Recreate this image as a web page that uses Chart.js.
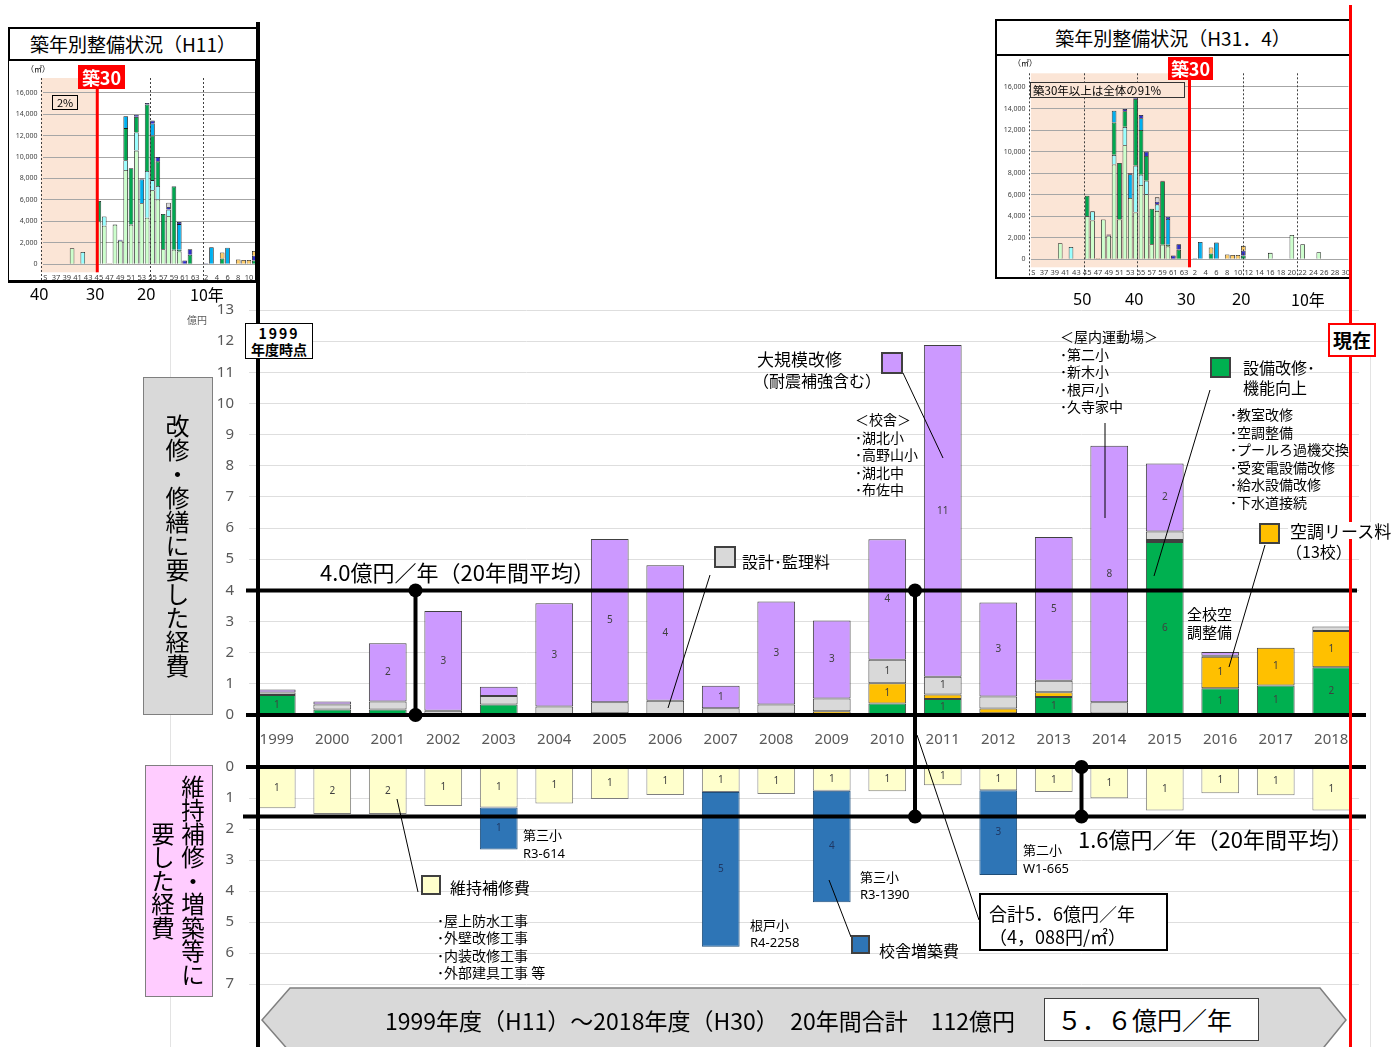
<!DOCTYPE html>
<html lang="ja">
<head>
<meta charset="utf-8">
<title>改修・修繕及び維持補修・増築等に要した経費</title>
<script src="https://cdn.jsdelivr.net/npm/chart.js@4.4.1/dist/chart.umd.min.js"></script>
<style>
  html, body { margin: 0; padding: 0; background: #fff; }
  #page { position: relative; width: 1400px; height: 1047px; overflow: hidden;
          font-family: "Noto Sans CJK JP", "Noto Sans", sans-serif; color: #000; }
  canvas { position: absolute; z-index: 1; }
  .t { position: absolute; white-space: nowrap; line-height: 1; z-index: 4; }
  .list { position: absolute; white-space: nowrap; z-index: 4; font-size: 14px; line-height: 17.5px; }
  .sq { position: absolute; box-sizing: border-box; border: 2px solid #404040; z-index: 4; }
  .frame { position: absolute; box-sizing: border-box; border: 2px solid #000; z-index: 3; }
  .vbox { position: absolute; box-sizing: border-box; writing-mode: vertical-rl; text-align: center;
          border: 1px solid #7f7f7f; z-index: 4; }
  .num { font-family: "Noto Sans", sans-serif; }
</style>
</head>
<body>
<div id="page">
  <canvas id="insetOld" width="249" height="222" style="left:8px;top:60px"></canvas>
  <canvas id="insetNow" width="355" height="223" style="left:996px;top:55px"></canvas>
  <canvas id="upper" width="1160" height="455" style="left:209px;top:295px"></canvas>
  <canvas id="lower" width="1160" height="242" style="left:209px;top:752px"></canvas>
  <canvas id="overlay" width="1400" height="1047" style="left:0;top:0;z-index:2"></canvas>

  <!-- faint guide lines and the two main verticals -->
  <div style="position:absolute;left:170px;top:290px;width:1px;height:757px;background:#e3e3e3;z-index:0"></div>
  <div style="position:absolute;left:1370px;top:330px;width:1px;height:717px;background:#e3e3e3;z-index:0"></div>
  <div style="position:absolute;left:256px;top:22px;width:4px;height:1025px;background:#000;z-index:3"></div>
  <div style="position:absolute;left:1349px;top:5px;width:3px;height:1042px;background:#ff0000;z-index:5"></div>

  <!-- 築年別整備状況 (H11) -->
  <div class="frame" style="left:8px;top:27px;width:250px;height:34px;background:#fff"></div>
  <div class="t" style="left:8px;width:250px;text-align:center;top:34px;font-size:19px">築年別整備状況（H11）</div>
  <div class="frame" style="left:8px;top:59px;width:250px;height:224px;border-width:1px 3px 3px 1px"></div>
  <div class="t" style="left:26px;top:65px;font-size:8px">（㎡）</div>
  <div class="t" style="left:78px;top:65px;width:47px;height:24px;background:#ff0000;color:#fff;font-weight:bold;font-size:18px;line-height:24px;text-align:center">築30</div>
  <div class="t" style="left:52px;top:95px;width:26px;height:15px;border:1px solid #000;box-sizing:border-box;font-size:11px;line-height:13px;text-align:center">2%</div>
  <div class="t num" style="left:30px;top:286px;font-size:16px">40</div>
  <div class="t num" style="left:86px;top:286px;font-size:16px">30</div>
  <div class="t num" style="left:137px;top:286px;font-size:16px">20</div>
  <div class="t" style="left:190px;top:286px;font-size:16px">10年</div>

  <!-- 築年別整備状況 (H31.4) -->
  <div class="frame" style="left:995px;top:19px;width:356px;height:37px;background:#fff"></div>
  <div class="t" style="left:995px;width:356px;text-align:center;top:28px;font-size:19px">築年別整備状況（H31．4）</div>
  <div class="frame" style="left:995px;top:54px;width:356px;height:225px"></div>
  <div class="t" style="left:1013px;top:59px;font-size:8px">（㎡）</div>
  <div class="t" style="left:1168px;top:57px;width:45px;height:23px;background:#ff0000;color:#fff;font-weight:bold;font-size:18px;line-height:23px;text-align:center">築30</div>
  <div class="t" style="left:1030px;top:82px;width:155px;height:16px;border:1px solid #333;box-sizing:border-box;background:#fbe5d6;font-size:11.5px;line-height:14px;padding-left:2px">築30年以上は全体の91%</div>
  <div class="t num" style="left:1073px;top:291px;font-size:16px">50</div>
  <div class="t num" style="left:1125px;top:291px;font-size:16px">40</div>
  <div class="t num" style="left:1177px;top:291px;font-size:16px">30</div>
  <div class="t num" style="left:1232px;top:291px;font-size:16px">20</div>
  <div class="t" style="left:1291px;top:291px;font-size:16px">10年</div>

  <!-- axis captions -->
  <div class="t" style="left:187px;top:315px;font-size:10px;color:#595959">億円</div>
  <div class="t" style="left:245px;top:323px;width:68px;height:36px;border:1px solid #000;box-sizing:border-box;background:#fff;font-weight:bold;font-size:14px;line-height:16px;text-align:center;padding-top:1px;z-index:6">
    <span style="letter-spacing:2px">1999</span><br>年度時点</div>
  <div class="vbox" style="left:143px;top:377px;width:70px;height:338px;background:#d9d9d9;font-size:24px;line-height:30px;padding-right:20px">改修・修繕に要した経費</div>
  <div class="vbox" style="left:145px;top:765px;width:68px;height:232px;background:#ffccff;font-size:23.5px;line-height:30px;padding-right:4px">維持補修・増築等に<br>要した経費</div>

  <!-- upper annotations -->
  <div class="t" id="avgUpperLabel" style="left:320px;top:560px;font-size:22px"></div>
  <div class="t" style="left:757px;top:350px;font-size:17px">大規模改修</div>
  <div class="t" style="left:753px;top:372px;font-size:16px">（耐震補強含む）</div>
  <div class="sq" style="left:881px;top:352px;width:22px;height:22px;background:#cc99ff"></div>
  <div class="list" style="left:855px;top:411px">＜校舎＞<br>･湖北小<br>･高野山小<br>･湖北中<br>･布佐中</div>
  <div class="sq" style="left:714px;top:546px;width:22px;height:22px;background:#d9d9d9"></div>
  <div class="t" style="left:742px;top:553px;font-size:16px">設計･監理料</div>
  <div class="list" style="left:1060px;top:328px">＜屋内運動場＞<br>･第二小<br>･新木小<br>･根戸小<br>･久寺家中</div>
  <div class="sq" style="left:1210px;top:357px;width:21px;height:21px;background:#00b050"></div>
  <div class="t" style="left:1243px;top:359px;font-size:16px">設備改修･</div>
  <div class="t" style="left:1243px;top:379px;font-size:16px">機能向上</div>
  <div class="list" style="left:1230px;top:406px">･教室改修<br>･空調整備<br>･プールろ過機交換<br>･受変電設備改修<br>･給水設備改修<br>･下水道接続</div>
  <div class="sq" style="left:1259px;top:523px;width:21px;height:21px;background:#ffc000"></div>
  <div class="t" style="left:1288px;top:522px;font-size:17px;background:#fff;padding:0 2px;z-index:6">空調リース料</div>
  <div class="t" style="left:1286px;top:543px;font-size:16px">（13校）</div>
  <div class="t" style="left:1187px;top:606px;font-size:15px">全校空</div>
  <div class="t" style="left:1187px;top:624px;font-size:15px">調整備</div>
  <div class="t" style="left:1328px;top:323px;width:48px;height:34px;border:2px solid #ff0000;box-sizing:border-box;background:#fff;font-weight:bold;font-size:19px;line-height:30px;text-align:center;z-index:6">現在</div>

  <!-- lower annotations -->
  <div class="t" id="avgLowerLabel" style="left:1078px;top:827px;font-size:22px"></div>
  <div class="sq" style="left:421px;top:875px;width:20px;height:20px;background:#ffffcc"></div>
  <div class="t" style="left:450px;top:879px;font-size:16px">維持補修費</div>
  <div class="list" style="left:437px;top:912px;line-height:17.3px">･屋上防水工事<br>･外壁改修工事<br>･内装改修工事<br>･外部建具工事 等</div>
  <div class="t" style="left:523px;top:828px;font-size:13px">第三小</div>
  <div class="t num" style="left:523px;top:847px;font-size:13px">R3-614</div>
  <div class="t" style="left:750px;top:918px;font-size:13px">根戸小</div>
  <div class="t num" style="left:750px;top:936px;font-size:13px">R4-2258</div>
  <div class="t" style="left:860px;top:870px;font-size:13px">第三小</div>
  <div class="t num" style="left:860px;top:888px;font-size:13px">R3-1390</div>
  <div class="t" style="left:1023px;top:843px;font-size:13px">第二小</div>
  <div class="t num" style="left:1023px;top:862px;font-size:13px">W1-665</div>
  <div class="sq" style="left:851px;top:935px;width:19px;height:19px;background:#2e75b6"></div>
  <div class="t" style="left:879px;top:942px;font-size:16px">校舎増築費</div>
  <div class="t" style="left:979px;top:893px;width:189px;height:58px;border:2px solid #000;box-sizing:border-box;background:#fff;font-size:18px;line-height:23px;padding:7px 0 0 8px">合計5．6億円／年<br>（4，088円/㎡）</div>

  <!-- bottom banner -->
  <svg width="1400" height="1047" style="position:absolute;left:0;top:0;z-index:4">
    <polygon points="262,1020 290,988 1320,988 1346,1020 1320,1052 290,1052" fill="#d9d9d9" stroke="#7f7f7f" stroke-width="1.5"/>
  </svg>
  <div class="t" style="left:385px;top:1009px;font-size:23px;z-index:5">1999年度（H11）～2018年度（H30）　20年間合計　112億円</div>
  <div class="t" style="left:1044px;top:998px;width:215px;height:43px;border:1px solid #404040;box-sizing:border-box;background:#fff;font-size:25px;line-height:41px;padding-left:12px;z-index:5">５．６億円／年</div>
</div>

<script>
// 年度
const fiscalYears = ['1999', '2000', '2001', '2002', '2003', '2004', '2005', '2006', '2007', '2008',
                     '2009', '2010', '2011', '2012', '2013', '2014', '2015', '2016', '2017', '2018'];

// 改修・修繕に要した経費（億円）
const facilityUpgrade = [0.64, 0.18, 0.18, 0, 0.34, 0, 0, 0, 0.03, 0, 0, 0.37, 0.51, 0.06, 0.58, 0.02, 5.55, 0.86, 0.95, 1.53];
const acLease         = [0, 0, 0, 0, 0, 0, 0.06, 0.02, 0, 0.05, 0.12, 0.65, 0.15, 0.15, 0.15, 0.03, 0.07, 1.01, 1.21, 1.17];
const designFee       = [0.08, 0.16, 0.25, 0.14, 0.27, 0.27, 0.35, 0.44, 0.19, 0.29, 0.41, 0.75, 0.57, 0.38, 0.37, 0.36, 0.27, 0.03, 0, 0.14];
const majorRenovation = [0.10, 0.09, 1.87, 3.20, 0.30, 3.32, 5.24, 4.35, 0.72, 3.30, 2.50, 3.87, 10.65, 3.02, 4.61, 8.23, 2.18, 0.12, 0, 0];

// 維持補修・増築等に要した経費（億円）
const maintenance     = [1.33, 1.52, 1.52, 1.26, 1.31, 1.18, 1.03, 0.90, 0.81, 0.87, 0.77, 0.78, 0.59, 0.75, 0.81, 1.01, 1.40, 0.85, 0.91, 1.40];
const schoolExtension = [0, 0, 0, 0, 1.35, 0, 0, 0, 4.99, 0, 3.59, 0, 0, 2.73, 0, 0, 0, 0, 0, 0];

// 20年間平均（億円／年）
const avgRenovation = 4.0;
const avgMaintenance = 1.6;

// 築年（S35〜S63, H1〜H30）
const builtYears = ['S', '36', '37', '38', '39', '40', '41', '42', '43', '44', '45', '46', '47', '48', '49',
                    '50', '51', '52', '53', '54', '55', '56', '57', '58', '59', '60', '61', '62', '63',
                    '1', '2', '3', '4', '5', '6', '7', '8', '9', '10', '11', '12', '13', '14', '15', '16',
                    '17', '18', '19', '20', '21', '22', '23', '24', '25', '26', '27', '28', '29', '30'];
const areaTicks = [0, 2000, 4000, 6000, 8000, 10000, 12000, 14000, 16000];

// 築年別の延床面積（㎡）
const areaLightGreen = [0, 0, 0, 0, 0, 1500, 0, 0, 0, 0,
                        4000, 3600, 0, 3700, 2200, 8800, 3700, 10600, 5700, 4350,
                        6900, 6050, 1400, 4500, 1350, 1200, 0, 0, 0, 0,
                        0, 0, 0, 0, 0, 0, 0, 0, 0, 0,
                        0, 0, 0, 0, 600, 0, 0, 0, 2250, 0,
                        1400, 0, 0, 650, 0, 0, 0, 0, 0];
const areaCyan       = [0, 0, 0, 0, 0, 0, 0, 1150, 0, 0,
                        0, 850, 0, 0, 0, 900, 0, 1700, 0, 4350,
                        950, 1250, 0, 600, 0, 0, 0, 0, 0, 0,
                        0, 0, 0, 0, 0, 0, 0, 0, 0, 0,
                        0, 0, 0, 0, 0, 0, 0, 0, 0, 0,
                        0, 0, 0, 0, 0, 0, 0, 0, 0];
const areaGreen      = [0, 0, 0, 0, 0, 0, 0, 0, 0, 0,
                        1900, 0, 0, 0, 0, 3000, 5250, 1450, 0, 6200,
                        4150, 2300, 3300, 0, 5900, 150, 0, 900, 0, 0,
                        0, 0, 0, 550, 0, 0, 0, 0, 0, 350,
                        0, 0, 0, 0, 0, 0, 0, 0, 0, 0,
                        0, 0, 0, 0, 0, 0, 0, 0, 0];
const areaBlue       = [0, 0, 0, 0, 0, 0, 0, 0, 0, 0,
                        0, 0, 0, 0, 0, 1100, 0, 0, 2200, 0,
                        1100, 0, 0, 0, 0, 2400, 0, 0, 0, 0,
                        0, 1600, 0, 0, 1550, 0, 0, 0, 0, 0,
                        0, 0, 0, 0, 0, 0, 0, 0, 0, 0,
                        0, 0, 0, 0, 0, 0, 0, 0, 0];
const areaNavy       = [0, 0, 0, 0, 0, 0, 0, 0, 0, 0,
                        0, 0, 0, 0, 100, 0, 0, 200, 100, 150,
                        300, 400, 0, 250, 50, 200, 350, 500, 0, 0,
                        100, 0, 0, 0, 0, 0, 0, 0, 0, 450,
                        0, 0, 0, 0, 0, 0, 0, 0, 0, 0,
                        0, 0, 0, 0, 0, 0, 0, 0, 0];
const areaOrange     = [0, 0, 0, 0, 0, 0, 0, 0, 0, 0,
                        0, 0, 100, 0, 0, 0, 0, 0, 0, 0,
                        0, 0, 0, 0, 0, 0, 0, 0, 0, 0,
                        0, 0, 0, 550, 0, 0, 450, 400, 400, 450,
                        0, 0, 0, 0, 0, 0, 0, 0, 0, 0,
                        0, 0, 0, 0, 0, 0, 0, 0, 0];
const areaGray       = [0, 0, 0, 0, 0, 0, 0, 0, 0, 0,
                        0, 0, 0, 0, 0, 0, 0, 0, 0, 0,
                        0, 0, 0, 400, 0, 0, 0, 0, 0, 0,
                        0, 0, 0, 0, 0, 0, 0, 0, 0, 0,
                        0, 0, 0, 0, 0, 0, 0, 0, 0, 0,
                        0, 0, 0, 0, 0, 0, 0, 0, 0];

// 引出線（始点 → 終点）
const leaderLines = [
  [903, 373, 943, 458],
  [710, 575, 668, 708],
  [1105, 423, 1105, 518],
  [1210, 390, 1154, 576],
  [1265, 545, 1229, 667],
  [397, 799, 418, 892],
  [829, 880, 851, 937],
  [917, 735, 979, 920]
];

const tickFont = { family: '"Noto Sans"', size: 15 };
const nz = arr => arr.map(v => v || null);
// 目盛ラベルの上下はみ出し分を描画領域の計算から外す
const noEdgePadding = s => { s.paddingTop = 0; s.paddingBottom = 0; };

// 各区分の中央に四捨五入した金額を表示
const segmentLabels = {
  id: 'segmentLabels',
  afterDatasetsDraw(chart) {
    const ctx = chart.ctx;
    ctx.save();
    ctx.font = '10px "Noto Sans"';
    ctx.textAlign = 'center';
    ctx.textBaseline = 'middle';
    chart.data.datasets.forEach((ds, i) => {
      chart.getDatasetMeta(i).data.forEach((bar, j) => {
        const v = Math.round(ds.data[j] || 0);
        if (v < 1) return;
        const p = bar.getProps(['x', 'y', 'base'], true);
        ctx.fillStyle = ds.labelColor || '#404040';
        ctx.fillText(v, p.x, (p.y + p.base) / 2);
      });
    });
    ctx.restore();
  }
};

function barSet(label, data, bg, border, labelColor) {
  return { label, data: nz(data), backgroundColor: bg, borderColor: border, borderWidth: 1,
           borderSkipped: false, labelColor };
}

const upperChart = new Chart(document.getElementById('upper'), {
  type: 'bar',
  data: {
    labels: fiscalYears,
    datasets: [
      barSet('設備改修・機能向上', facilityUpgrade, '#00b050', '#404040'),
      barSet('空調リース料', acLease, '#ffc000', '#404040'),
      barSet('設計・監理料', designFee, '#d9d9d9', '#404040'),
      barSet('大規模改修（耐震補強含む）', majorRenovation, '#cc99ff', '#404040')
    ]
  },
  options: {
    responsive: false,
    animation: false,
    layout: { padding: { top: 15, right: 10, left: 0, bottom: 0 } },
    datasets: { bar: { categoryPercentage: 1, barPercentage: 0.68 } },
    plugins: { legend: { display: false }, tooltip: { enabled: false } },
    scales: {
      x: {
        stacked: true,
        grid: { display: false },
        border: { display: false },
        ticks: { color: '#595959', font: tickFont, padding: 8, maxRotation: 0, autoSkip: false },
        afterFit: s => { s.height = 35; }
      },
      y: {
        stacked: true, min: 0, max: 13,
        grid: { color: '#dedede', drawTicks: false },
        border: { display: false },
        ticks: { stepSize: 1, color: '#595959', font: tickFont, padding: 15 },
        afterFit: s => { s.width = 40; noEdgePadding(s); }
      }
    }
  },
  plugins: [segmentLabels]
});

const lowerChart = new Chart(document.getElementById('lower'), {
  type: 'bar',
  data: {
    labels: fiscalYears,
    datasets: [
      barSet('維持補修費', maintenance, '#ffffcc', '#7f7f7f'),
      barSet('校舎増築費', schoolExtension, '#2e75b6', '#1f4e79', '#1f3864')
    ]
  },
  options: {
    responsive: false,
    animation: false,
    layout: { padding: { top: 15, right: 10, left: 0, bottom: 10 } },
    datasets: { bar: { categoryPercentage: 1, barPercentage: 0.68 } },
    plugins: { legend: { display: false }, tooltip: { enabled: false } },
    scales: {
      x: { stacked: true, display: false },
      y: {
        stacked: true, reverse: true, min: 0, max: 7,
        grid: { color: '#dedede', drawTicks: false },
        border: { display: false },
        ticks: { stepSize: 1, color: '#595959', font: tickFont, padding: 15 },
        afterFit: s => { s.width = 40; noEdgePadding(s); }
      }
    }
  },
  plugins: [segmentLabels]
});

// 築年別グラフ：築30年以上の網掛け、築年の目盛線、築30の赤線
const insetMarks = {
  id: 'insetMarks',
  beforeDraw(chart, args, opts) {
    const { ctx, chartArea: a, scales: { x } } = chart;
    const at = v => x.getPixelForValue(0) + v * (x.getPixelForValue(1) - x.getPixelForValue(0));
    ctx.save();
    ctx.fillStyle = '#fbe5d6';
    ctx.fillRect(at(opts.shadeFrom), a.top, at(opts.red) - at(opts.shadeFrom), a.bottom - a.top + 8);
    ctx.restore();
  },
  afterDatasetsDraw(chart, args, opts) {
    const { ctx, chartArea: a, scales: { x } } = chart;
    const at = v => x.getPixelForValue(0) + v * (x.getPixelForValue(1) - x.getPixelForValue(0));
    ctx.save();
    ctx.strokeStyle = '#404040';
    ctx.lineWidth = 1;
    ctx.setLineDash([2, 2]);
    opts.dashed.forEach(v => {
      ctx.beginPath();
      ctx.moveTo(Math.round(at(v)) + 0.5, a.top);
      ctx.lineTo(Math.round(at(v)) + 0.5, chart.height);
      ctx.stroke();
    });
    ctx.setLineDash([]);
    ctx.strokeStyle = '#ff0000';
    ctx.lineWidth = 3;
    ctx.beginPath();
    ctx.moveTo(at(opts.red), a.top);
    ctx.lineTo(at(opts.red), a.bottom + 8);
    ctx.stroke();
    ctx.restore();
  }
};

function insetChart(id, count, marks, yMax, padTop, axisHeight) {
  const slice = arr => nz(arr.slice(0, count));
  const ds = (label, data, color) => ({ label, data: slice(data), backgroundColor: color,
                                        borderColor: '#1a1a1a', borderWidth: 0.8 });
  return new Chart(document.getElementById(id), {
    type: 'bar',
    data: {
      labels: builtYears.slice(0, count),
      datasets: [
        ds('RC校舎', areaLightGreen, '#ccffcc'),
        ds('RC校舎（改修）', areaCyan, '#99ffff'),
        ds('屋内運動場', areaGreen, '#00a850'),
        ds('S造', areaBlue, '#00b0f0'),
        ds('その他', areaNavy, '#2f2fc8'),
        ds('プール等', areaOrange, '#ffcc66'),
        ds('附属棟', areaGray, '#d9d9d9')
      ]
    },
    options: {
      responsive: false,
      animation: false,
      layout: { padding: { top: padTop, right: 0, left: 0, bottom: 0 } },
      datasets: { bar: { categoryPercentage: 1, barPercentage: 0.86 } },
      plugins: { legend: { display: false }, tooltip: { enabled: false }, insetMarks: marks },
      scales: {
        x: {
          stacked: true,
          grid: { display: false },
          border: { display: false },
          ticks: { color: '#404040', font: { family: '"Noto Sans"', size: 7.5 }, padding: 1,
                   maxRotation: 0, autoSkip: false,
                   callback: (v, i) => (i % 2 === 0 ? builtYears[i] : '') },
          afterFit: s => { s.height = axisHeight; }
        },
        y: {
          stacked: true, min: 0, max: yMax,
          grid: { color: '#a6a6a6', drawTicks: false },
          border: { display: false },
          ticks: { color: '#404040', font: { family: '"Noto Sans"', size: 7 }, padding: 5,
                   callback: v => v.toLocaleString('en-US') },
          afterBuildTicks: s => { s.ticks = areaTicks.map(value => ({ value })); },
          afterFit: s => { s.width = 34.6; noEdgePadding(s); }
        }
      }
    },
    plugins: [insetMarks]
  });
}

insetChart('insetOld', 40, { shadeFrom: -0.85, red: 9.7, dashed: [-0.85, 19.6, 29.4] }, 17370, 18, 17.7);
insetChart('insetNow', 59, { shadeFrom: -0.45, red: 29, dashed: [-0.74, 9.4, 19.3, 39, 48.9] }, 17270, 18.3, 18.7);

document.getElementById('avgUpperLabel').textContent = avgRenovation.toFixed(1) + '億円／年（20年間平均）';
document.getElementById('avgLowerLabel').textContent = avgMaintenance.toFixed(1) + '億円／年（20年間平均）';

// 基準線・平均線・ブラケット・引出線
function drawOverlay() {
  const ctx = document.getElementById('overlay').getContext('2d');
  const ux = upperChart.canvas.offsetLeft;
  const uY = v => upperChart.canvas.offsetTop + upperChart.scales.y.getPixelForValue(v);
  const lY = v => lowerChart.canvas.offsetTop + lowerChart.scales.y.getPixelForValue(v);
  const xs = upperChart.scales.x;
  const gap = i => ux + (xs.getPixelForValue(i - 1) + xs.getPixelForValue(i)) / 2;
  const left = ux + upperChart.chartArea.left;
  const right = ux + upperChart.chartArea.right;

  ctx.strokeStyle = '#000';
  ctx.fillStyle = '#000';
  const line = (x1, y1, x2, y2, w) => {
    ctx.lineWidth = w;
    ctx.beginPath();
    ctx.moveTo(x1, y1);
    ctx.lineTo(x2, y2);
    ctx.stroke();
  };
  const dot = (x, y) => { ctx.beginPath(); ctx.arc(x, y, 7, 0, Math.PI * 2); ctx.fill(); };

  line(left - 3, uY(0), right + 7, uY(0), 4);
  line(left - 3, uY(avgRenovation), right - 2, uY(avgRenovation), 4);
  line(left - 3, lY(0), right + 7, lY(0), 4);
  line(left - 6, lY(avgMaintenance), right + 7, lY(avgMaintenance), 4);

  [[gap(3), uY(avgRenovation), uY(0)],
   [gap(12), uY(avgRenovation), lY(avgMaintenance)],
   [gap(15), lY(0), lY(avgMaintenance)]].forEach(([x, y1, y2]) => {
    line(x, y1, x, y2, 4);
    dot(x, y1);
    dot(x, y2);
  });

  leaderLines.forEach(([x1, y1, x2, y2]) => line(x1, y1, x2, y2, 1));
}

drawOverlay();
</script>
</body>
</html>
